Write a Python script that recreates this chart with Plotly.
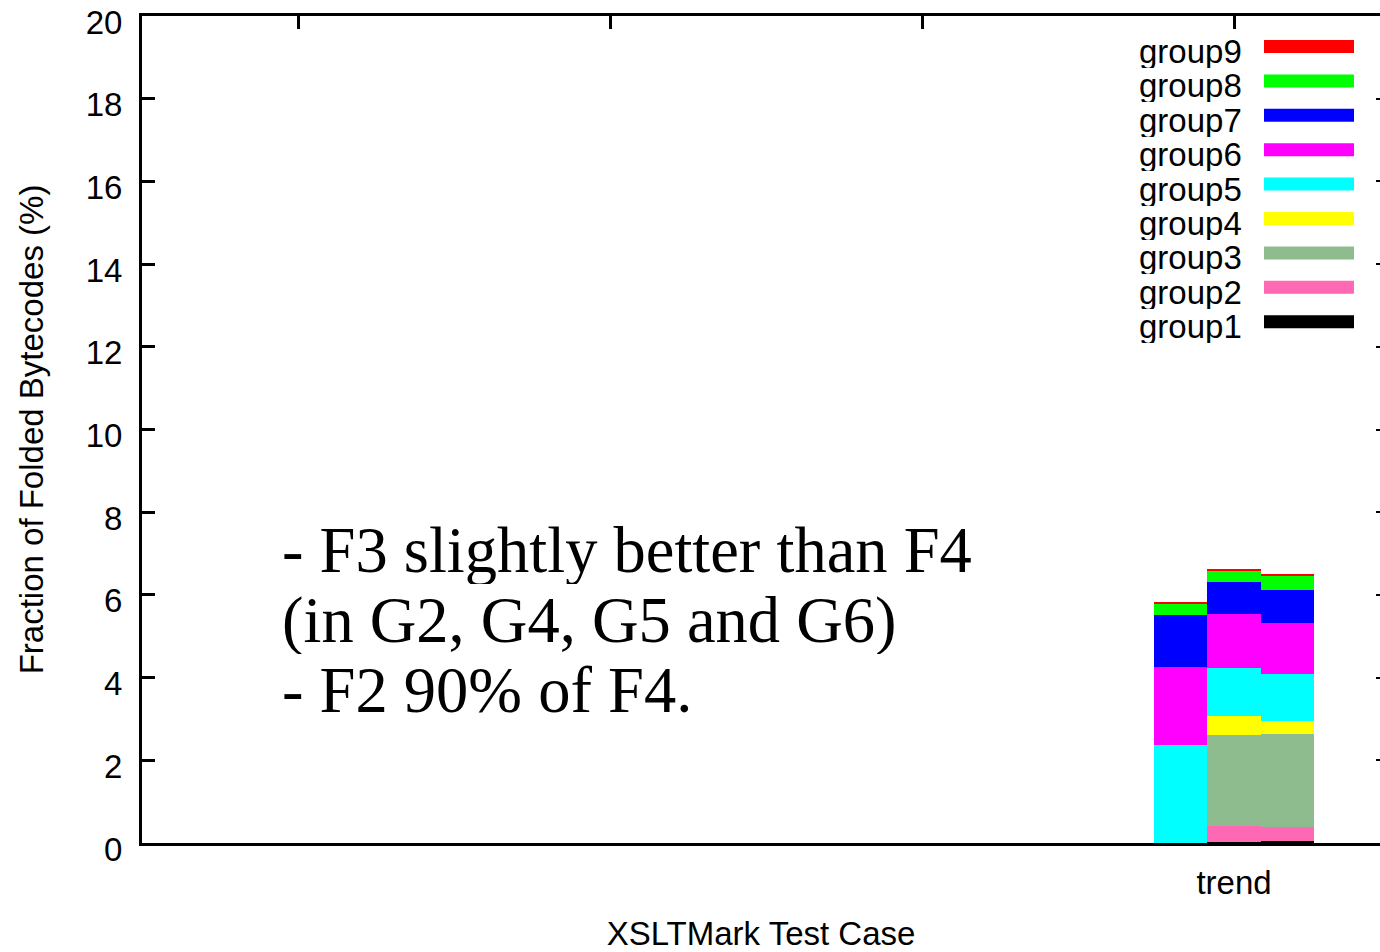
import plotly.graph_objects as go

# ---------------- data ----------------
cases = ["", "", "", "trend"]            # x categories (only "trend" is labelled)
configs = ["F2", "F3", "F4"]             # three stacked bars inside the "trend" case
groups = ["group1", "group2", "group3", "group4", "group5",
          "group6", "group7", "group8", "group9"]
colors = ["#000000", "#ff69b4", "#8fbc8f", "#ffff00", "#00ffff",
          "#ff00ff", "#0000ff", "#00ff00", "#ff0000"]

group1 = [0.00, 0.03, 0.05]
group2 = [0.00, 0.38, 0.33]
group3 = [0.00, 2.21, 2.26]
group4 = [0.00, 0.46, 0.32]
group5 = [2.37, 1.15, 1.12]
group6 = [1.88, 1.31, 1.25]
group7 = [1.26, 0.77, 0.79]
group8 = [0.26, 0.28, 0.36]
group9 = [0.05, 0.02, 0.02]
series = [group1, group2, group3, group4, group5, group6, group7, group8, group9]

y_ticks = [0, 2, 4, 6, 8, 10, 12, 14, 16, 18, 20]
note_lines = ["- F3 slightly better than F4",
              "(in G2, G4, G5 and G6)",
              "- F2 90% of F4."]

# ---------------- geometry ----------------
W, H = 1380, 952
L, R, T, B = 142, 1380, 16, 843
bar_w = 0.17
case_idx = cases.index("trend")
bar_x = [case_idx + (i - 1) * bar_w for i in range(len(configs))]

def px(xp):
    return (xp - L) / (R - L)

def py(yp):
    return (B - yp) / (B - T)

SANS = "Liberation Sans, Arial, sans-serif"
SERIF = "Liberation Serif, Times New Roman, serif"

fig = go.Figure()
for name, vals, col in zip(groups, series, colors):
    fig.add_trace(go.Bar(x=bar_x, y=vals, width=bar_w, name=name,
                         marker=dict(color=col, line=dict(width=0)),
                         showlegend=False, customdata=configs))

# dummy trace to activate mirror axes
fig.add_trace(go.Scatter(x=[None], y=[None], xaxis="x2", yaxis="y2",
                         showlegend=False, hoverinfo="skip"))

xrange = [-0.5, -0.5 + (R - L) / 312.0]

annotations = []
shapes = []
# notes
for i, line in enumerate(note_lines):
    annotations.append(dict(text=line, xref="paper", yref="paper",
                            x=px(280), y=py(550 + 70 * i), xanchor="left",
                            yanchor="middle", showarrow=False, height=68,
                            font=dict(family=SERIF, size=64.5, color="black")))
# legend (gnuplot style: text on left, swatch on right, group9 on top)
for i, (name, col) in enumerate(zip(groups[::-1], colors[::-1])):
    yc = 46.5 + 34.4 * i
    annotations.append(dict(text=name, xref="paper", yref="paper",
                            x=px(1244), y=py(yc + 5), xanchor="right",
                            yanchor="middle", showarrow=False, height=33,
                            font=dict(family=SANS, size=33, color="black")))
    shapes.append(dict(type="rect", xref="paper", yref="paper",
                       x0=px(1264), x1=px(1354), y0=py(yc + 6.5), y1=py(yc - 6.5),
                       fillcolor=col, line=dict(width=0)))

fig.update_layout(
    width=W, height=H,
    margin=dict(l=L, r=W - R, t=T, b=H - B, pad=0, autoexpand=False),
    paper_bgcolor="white", plot_bgcolor="white",
    barmode="stack", bargap=0,
    font=dict(family=SANS, size=33, color="black"),
    xaxis=dict(range=xrange, tickmode="array", tickvals=[case_idx],
               ticktext=[cases[case_idx]], ticks="", showgrid=False,
               zeroline=False, showline=True, linecolor="black", linewidth=3,
               automargin=False,
               tickfont=dict(family=SANS, size=33), ticklabelstandoff=8,
               title=dict(text="XSLTMark Test Case", standoff=40,
                          font=dict(family=SANS, size=33))),
    xaxis2=dict(range=xrange, overlaying="x", side="top", anchor="y2",
                tickmode="array", tickvals=list(range(len(cases))),
                ticks="inside", ticklen=13, tickwidth=3, tickcolor="black",
                showticklabels=False, showgrid=False, zeroline=False,
                automargin=False,
                showline=True, linecolor="black", linewidth=3),
    yaxis=dict(range=[0, 20], tickmode="array", tickvals=y_ticks,
               ticks="inside", ticklen=13, tickwidth=3, tickcolor="black",
               showgrid=False, zeroline=False, showline=True,
               linecolor="black", linewidth=3, automargin=False,
               ticklabeloverflow="allow", ticklabelshift=6,
               tickfont=dict(family=SANS, size=33), ticklabelstandoff=10,
               title=dict(text="Fraction of Folded Bytecodes (%)", standoff=33,
                          font=dict(family=SANS, size=33))),
    yaxis2=dict(range=[0, 20], overlaying="y", side="right", anchor="x2",
                tickmode="array", tickvals=y_ticks, ticks="inside",
                ticklen=4, tickwidth=2, tickcolor="black",
                showticklabels=False, showgrid=False, zeroline=False,
                automargin=False, showline=False),
    annotations=annotations,
    shapes=shapes,
)

fig.write_html("out.html")
